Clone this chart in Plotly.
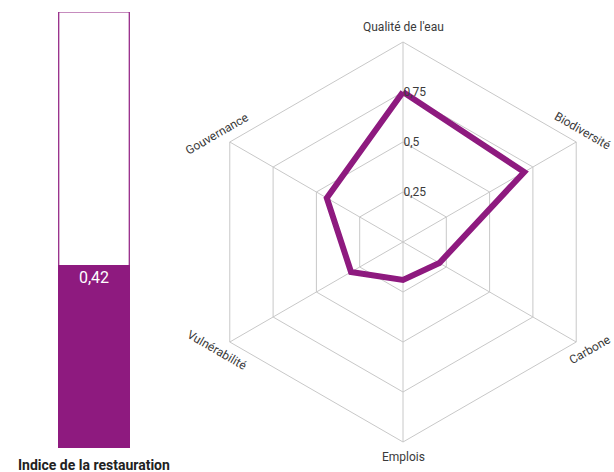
import math
import plotly.graph_objects as go

# ---- data ----
categories = ["Qualité de l'eau", "Biodiversité", "Carbone", "Emplois", "Vulnérabilité", "Gouvernance"]
values = [0.75, 0.70, 0.21, 0.19, 0.30, 0.44]
index_value = 0.42
index_label = "0,42"
index_title = "Indice de la restauration"
radial_ticks = [0.25, 0.5, 0.75]
radial_ticktext = ["0,25", "0,5", "0,75"]

PURPLE = "#8e1a7f"
GRID = "#c8c8c8"
TEXT = "#3a3a3a"
FONT = "Roboto, sans-serif"

W, H = 614, 472

# layout geometry (pixels)
cx, cy, R = 403, 242, 200
bar_x0, bar_x1, bar_top, bar_bot = 58, 130, 12, 448

fig = go.Figure()

# radar
fig.add_trace(go.Scatterpolar(
    r=values + values[:1], theta=categories + categories[:1],
    mode="lines", line=dict(color=PURPLE, width=6), showlegend=False,
    hoverinfo="skip",
))

# index bar: full outline then filled part
fig.add_trace(go.Bar(
    x=[0], y=[1], marker=dict(color="white", line=dict(color=PURPLE, width=1.2)),
    width=0.98, showlegend=False, xaxis="x", yaxis="y", hoverinfo="skip",
))
fig.add_trace(go.Bar(
    x=[0], y=[index_value], marker=dict(color=PURPLE, line=dict(width=0)),
    width=1.0, text=[index_label], textposition="inside", insidetextanchor="end",
    textfont=dict(color="white", size=16, family=FONT), textangle=0,
    showlegend=False, xaxis="x", yaxis="y", hoverinfo="skip",
))

fig.update_layout(
    width=W, height=H,
    margin=dict(l=0, r=0, t=0, b=0),
    paper_bgcolor="white", plot_bgcolor="white",
    barmode="overlay",
    font=dict(family=FONT, color=TEXT, size=12),
    xaxis=dict(domain=[bar_x0 / W, bar_x1 / W], range=[-0.5, 0.5], visible=False, fixedrange=True),
    yaxis=dict(domain=[(H - bar_bot) / H, (H - bar_top) / H], range=[0, 1], visible=False, fixedrange=True),
    polar=dict(
        domain=dict(x=[(cx - R) / W, (cx + R) / W], y=[(H - cy - R) / H, (H - cy + R) / H]),
        gridshape="linear",
        bgcolor="white",
        radialaxis=dict(
            range=[0, 1], tickvals=radial_ticks + [1.0], ticktext=radial_ticktext + [""],
            angle=90, tickangle=90, side="clockwise", showline=False, ticks="",
            gridcolor=GRID, gridwidth=1,
            tickfont=dict(size=12, color=TEXT, family=FONT),
        ),
        angularaxis=dict(
            direction="clockwise", rotation=90, showticklabels=False, ticks="",
            showline=True, linecolor=GRID, linewidth=1, gridcolor=GRID, gridwidth=1,
        ),
    ),
)

# rotated category labels around the radar
label_r = [215, 211, 215, 215, 215, 215]
tangent_shift = [0, -6, 0, 0, 0, 0]
angles = [90, 30, -30, -90, -150, 150]
rot = [0, 30, -30, 0, 30, -30]
for name, a, tr, lr, ts in zip(categories, angles, rot, label_r, tangent_shift):
    t = math.radians(a)
    px = cx + lr * math.cos(t) + ts * (-math.sin(t)) * -1
    py = cy - lr * math.sin(t) + ts * math.cos(t)
    fig.add_annotation(
        x=px / W, y=(H - py) / H, xref="paper", yref="paper", text=name,
        showarrow=False, textangle=tr, xanchor="center", yanchor="middle",
        font=dict(size=12, color=TEXT, family=FONT),
    )

# title under bar
fig.add_annotation(
    x=((bar_x0 + bar_x1) / 2) / W, y=(H - 465) / H, xref="paper", yref="paper",
    text="<b>" + index_title + "</b>", showarrow=False, xanchor="center", yanchor="middle",
    font=dict(size=14, color="#222222", family=FONT),
)

fig.write_html("out.html")
